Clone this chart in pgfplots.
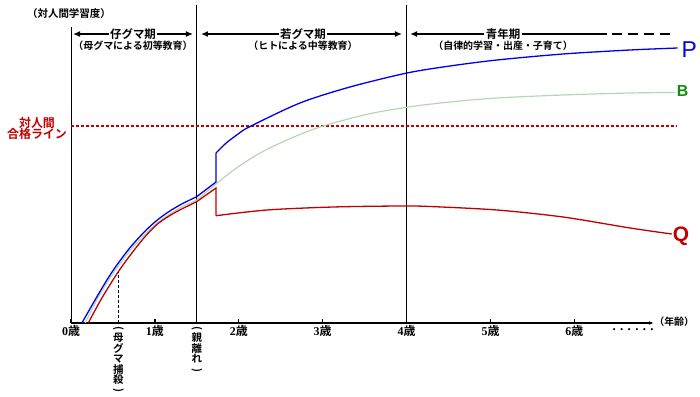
\documentclass[border=0pt]{standalone}
\usepackage{fontspec}
\setmainfont{Liberation Serif}
\newfontfamily\cjk{Noto Sans CJK JP Bold}
\newfontfamily\lsans{Liberation Sans}
\usepackage{graphicx}
\usepackage{pgfplots}
\pgfplotsset{compat=1.18}
\usetikzlibrary{arrows.meta}
\definecolor{cblue}{RGB}{0,0,235}
\definecolor{cred}{RGB}{192,0,0}
\definecolor{cgreen}{RGB}{178,216,178}
\definecolor{bgreen}{RGB}{20,140,20}
\newcommand{\fs}[1]{\fontsize{#1}{#1}\selectfont}
\newcommand{\sai}{{\cjk 歳}}
\newcommand{\vp}[1]{\rotatebox[origin=c]{-90}{#1}}
\begin{document}
\begin{tikzpicture}
\path[use as bounding box] (-71bp,-74bp) rectangle (629bp,323bp);
\begin{axis}[
  anchor=origin, at={(0,0)},
  x=83.9bp, y=1bp,
  xmin=0, xmax=6.937, ymin=0, ymax=300,
  axis x line=bottom, axis y line=none,
  x axis line style={line width=1.1bp, -{Stealth[length=4bp,width=3.5bp]}},
  clip=false,
  xtick={0,1,2,3,4,5,6},
  xticklabels={\textbf{0}\sai,\textbf{1}\sai,\textbf{2}\sai,\textbf{3}\sai,\textbf{4}\sai,\textbf{5}\sai,\textbf{6}\sai},
  xticklabel style={font=\fs{12}, yshift=1bp},
  tick align=inside,
  major tick length=4bp,
  xtick style={line width=1.3bp, black},
  ytick=\empty,
]
% reference lines
\addplot[black, line width=0.8bp] coordinates {(0,0) (0,296)};
\addplot[black, line width=0.8bp] coordinates {(1.5,0) (1.5,318)};
\addplot[black, line width=0.8bp] coordinates {(4,0) (4,318)};
\addplot[black, line width=0.8bp, dash pattern=on 3bp off 2bp] coordinates {(0.564,0) (0.564,52)};
\addplot[cred, line width=1.5bp, dash pattern=on 3bp off 2bp] coordinates {(0,197) (7.22,197)};
% B (green)
\addplot[cgreen, line width=1.2bp, smooth, tension=0.5] coordinates {
 (0.17,0) (0.3,22) (0.45,43) (0.564,57) (0.7,72) (0.85,86) (1.0,98) (1.16,108) (1.32,116) (1.5,123)};
\addplot[cgreen, line width=1.2bp] coordinates {(1.5,123) (1.728,139)};
\addplot[cgreen, line width=1.2bp, smooth, tension=0.5] coordinates {
 (1.728,139) (1.931,152.5) (2.134,164) (2.336,173.7) (2.67,186.5) (3.004,197) (3.528,208.7) (4.005,215.8) (4.517,221) (5.077,225) (5.864,228) (6.663,230) (7.20,230.6)};
% P (blue)
\addplot[cblue, line width=1.3bp, smooth, tension=0.5] coordinates {
 (0.13,0) (0.3,25) (0.45,46) (0.564,60) (0.7,75) (0.85,89) (1.0,101) (1.16,111) (1.32,119) (1.498,126.3)};
\addplot[cblue, line width=1.3bp] coordinates {(1.498,126.3) (1.728,141) (1.728,170)};
\addplot[cblue, line width=1.3bp, smooth, tension=0.5] coordinates {
 (1.728,170) (1.85,180) (2.0,189.5) (2.134,196.5) (2.729,220) (3.325,236) (4.005,250) (4.517,257) (5.077,263) (5.864,269) (6.663,273) (7.23,275)};
% Q (red)
\addplot[cred, line width=1.3bp, smooth, tension=0.5] coordinates {
 (0.206,0) (0.366,24.7) (0.564,51.3) (0.723,69.7) (0.882,86.3) (1.041,99.7) (1.240,110.5) (1.498,121.3)};
\addplot[cred, line width=1.3bp] coordinates {(1.498,121.3) (1.728,135) (1.728,107.3)};
\addplot[cred, line width=1.3bp, smooth, tension=0.5] coordinates {
 (1.728,107.3) (2.336,113) (3.123,116) (3.921,117) (4.279,116.5) (5.077,113) (5.864,106) (6.663,95) (7.16,89)};
% period arrows
\draw[line width=2.2bp, {Latex[length=7bp,width=6bp]}-{Latex[length=7bp,width=6bp]}] (axis cs:0.024,289) -- (axis cs:1.454,289);
\draw[line width=2.2bp, {Latex[length=7bp,width=6bp]}-{Latex[length=7bp,width=6bp]}] (axis cs:1.549,289) -- (axis cs:3.945,289);
\draw[line width=2.2bp, {Latex[length=7bp,width=6bp]}-] (axis cs:4.041,289) -- (axis cs:6.389,289);
\draw[line width=2.2bp, dash pattern=on 10bp off 6bp] (axis cs:6.45,289) -- (axis cs:7.2,289);
\node[fill=white, inner sep=1.5bp, font=\cjk\fs{11.5}] at (axis cs:0.739,289) {仔グマ期};
\node[fill=white, inner sep=1.5bp, font=\cjk\fs{11.5}] at (axis cs:2.765,289) {若グマ期};
\node[fill=white, inner sep=1.5bp, font=\cjk\fs{11.5}] at (axis cs:5.15,289) {青年期};
\node[font=\cjk\fs{10}] at (axis cs:0.739,277) {（母グマによる初等教育）};
\node[font=\cjk\fs{10}] at (axis cs:2.765,277) {（ヒトによる中等教育）};
\node[font=\cjk\fs{10}] at (axis cs:5.15,277) {（自律的学習・出産・子育て）};
% other labels
\node[font=\cjk\fs{10.5}] at (axis cs:-0.024,309) {（対人間学習度）};
\node[font=\cjk\fs{12}, text=cred, align=center, inner sep=0pt] at (axis cs:-0.405,194.5) {対人間\\[-1.5bp]合格ライン};
\node[font=\cjk\fs{10}] at (axis cs:7.19,1) {（年齢）};
\node[font=\bfseries\fs{13}] at (axis cs:6.70,-7) {. . . . . .};
\node[anchor=north, inner sep=0pt, align=center, font=\cjk\fs{10.5}] at (axis cs:0.564,-3)
  {\vp{(}\\母\\グ\\マ\\捕\\殺\\\vp{)}};
\node[anchor=north, inner sep=0pt, align=center, font=\cjk\fs{10.5}] at (axis cs:1.5,-3)
  {\vp{(}\\親\\離\\れ\\\vp{)}};
\node[font=\lsans\fs{23}, text=cblue] at (axis cs:7.37,273) {P};
\node[font=\lsans\bfseries\fs{16}, text=bgreen] at (axis cs:7.29,232) {B};
\node[font=\lsans\bfseries\fs{21}, text=cred] at (axis cs:7.27,87) {Q};
\end{axis}
\end{tikzpicture}
\end{document}
